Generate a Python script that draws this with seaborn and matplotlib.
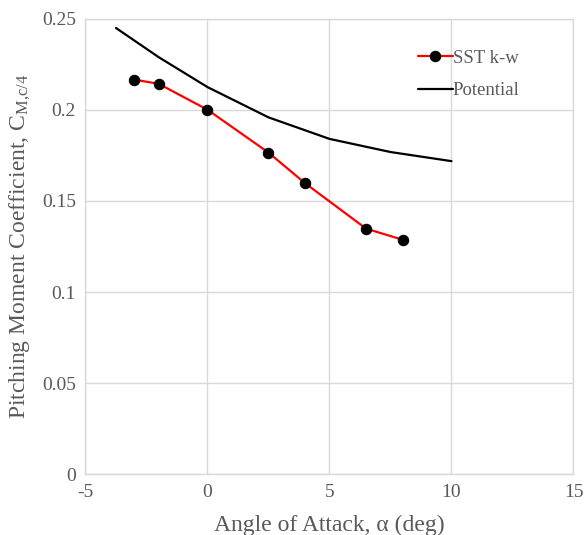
import matplotlib
matplotlib.use("Agg")
import matplotlib.pyplot as plt
import seaborn as sns
import pandas as pd

# SST k-w CFD results
sst_alpha = [-3, -2, 0, 2.5, 4, 6.5, 8]
sst_cm = [0.2165, 0.2142, 0.2000, 0.1765, 0.1597, 0.1348, 0.1287]

# Potential-flow prediction
pot_alpha = [-3.75, -2, 0, 2.5, 5, 7.5, 10]
pot_cm = [0.2448, 0.2288, 0.2124, 0.1958, 0.1840, 0.1768, 0.1718]

x_ticks = [-5, 0, 5, 10, 15]
y_ticks = [0, 0.05, 0.1, 0.15, 0.2, 0.25]
y_tick_labels = ["0", "0.05", "0.1", "0.15", "0.2", "0.25"]

sns.set_style("white")
plt.rcParams["font.family"] = ["Liberation Serif", "DejaVu Serif"]
plt.rcParams["mathtext.fontset"] = "custom"
plt.rcParams["mathtext.rm"] = "Liberation Serif"
plt.rcParams["mathtext.it"] = "Liberation Serif"

text_color = "#595959"
grid_color = "#d9d9d9"

fig = plt.figure(figsize=(5.84, 5.35), dpi=100)
ax = fig.add_axes([0.1464, 0.1131, 0.8356, 0.8523])

sst = pd.DataFrame({"alpha": sst_alpha, "cm": sst_cm})
pot = pd.DataFrame({"alpha": pot_alpha, "cm": pot_cm})

sns.lineplot(data=sst, x="alpha", y="cm", ax=ax, color="#ff0000", lw=1.6,
             marker="o", markersize=7.5, markerfacecolor="black",
             markeredgecolor="black", label="SST k-w", sort=False)
sns.lineplot(data=pot, x="alpha", y="cm", ax=ax, color="black", lw=1.6,
             label="Potential", sort=False)

ax.set_xlim(-5, 15)
ax.set_ylim(0, 0.25)
ax.set_xticks(x_ticks)
ax.set_xticklabels([str(t) for t in x_ticks])
ax.set_yticks(y_ticks)
ax.set_yticklabels(y_tick_labels)
ax.grid(True, color=grid_color, lw=1)
ax.set_axisbelow(True)
for s in ax.spines.values():
    s.set_color(grid_color)
    s.set_linewidth(1)

ax.tick_params(axis="both", length=0, labelsize=14, colors=text_color, pad=7)

ax.set_xlabel("Angle of Attack, α (deg)", fontsize=17, color=text_color, labelpad=10)
ax.set_ylabel(r"Pitching Moment Coefficient, C$_{\mathregular{M{,}c/4}}$",
              fontsize=17, color=text_color, labelpad=6)

leg = ax.legend(loc="upper left", bbox_to_anchor=(0.681, 0.932), frameon=False,
                fontsize=13.5, handlelength=1.85, handletextpad=0.0,
                labelspacing=0.82, borderpad=0, borderaxespad=0)
for t in leg.get_texts():
    t.set_color(text_color)

fig.savefig("out.png", dpi=100)
